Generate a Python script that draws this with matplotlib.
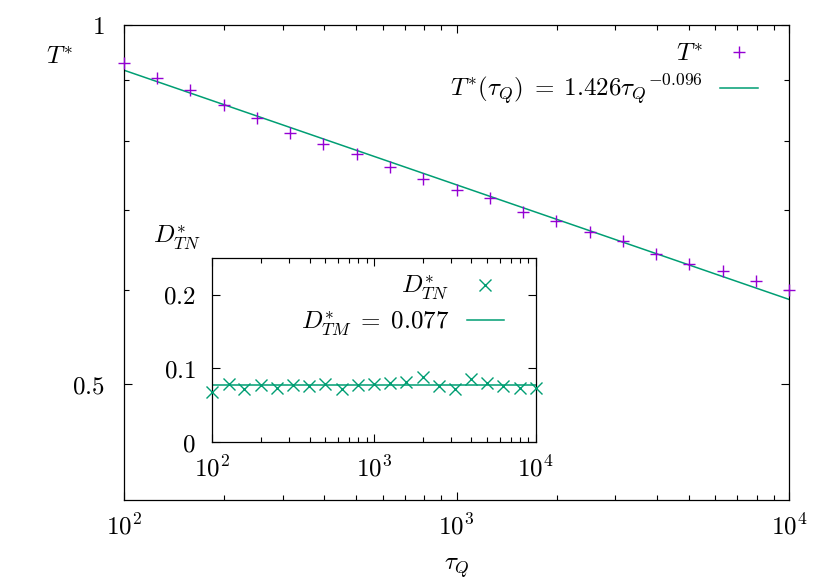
import numpy as np
import matplotlib
matplotlib.use("Agg")
import matplotlib.pyplot as plt
from matplotlib.ticker import FixedLocator, NullFormatter, LogLocator

plt.rcParams["mathtext.fontset"] = "cm"
plt.rcParams["font.family"] = "serif"
plt.rcParams["font.serif"] = ["DejaVu Serif"]

# quench times (0.1 decade steps)
tau_q = [100, 126, 158, 200, 251, 316, 398, 501, 631, 794, 1000,
         1259, 1585, 1995, 2512, 3162, 3981, 5012, 6310, 7943, 10000]

# T* values
t_star = [0.929, 0.903, 0.882, 0.857, 0.836, 0.812, 0.795, 0.779, 0.761,
          0.743, 0.728, 0.716, 0.697, 0.685, 0.671, 0.659, 0.643, 0.631,
          0.622, 0.610, 0.600]

# D*_TN values
d_tn = [0.0685, 0.0784, 0.0716, 0.0775, 0.0739, 0.0775, 0.0766, 0.0784,
        0.0716, 0.0775, 0.0788, 0.0806, 0.0811, 0.0878, 0.0766, 0.0721,
        0.0851, 0.0797, 0.0766, 0.0730, 0.0739]

fit_a = 1.426
fit_b = -0.096
d_tm = 0.077

PURPLE = "#9400d3"
GREEN = "#009e73"
FS = 18


def style_ticks(ax):
    ax.tick_params(which="both", direction="in", top=True, right=True,
                   width=0.8, labelsize=FS)
    ax.tick_params(which="major", length=6)
    ax.tick_params(which="minor", length=3.5)
    for s in ax.spines.values():
        s.set_linewidth(0.9)


def main():
    fig = plt.figure(figsize=(8.3, 5.81), dpi=100)

    # main panel
    ax = fig.add_axes([124 / 830, 1 - 500 / 581, 665 / 830, 475 / 581])
    x = np.array(tau_q, dtype=float)
    xf = np.logspace(2, 4, 200)
    ax.plot(x, t_star, ls="none", marker="+", ms=8, mew=1.0, color=PURPLE,
            label=r"$T^{*}$", clip_on=False, zorder=3)
    ax.plot(xf, fit_a * xf ** fit_b, color=GREEN, lw=1.1,
            label=r"$T^{*}(\tau_Q)\;=\;1.426\tau_Q{}^{-0.096}$")
    ax.set_xscale("log")
    ax.set_yscale("log")
    ax.set_xlim(1e2, 1e4)
    ax.set_ylim(0.4, 1.0)
    ax.xaxis.set_major_locator(FixedLocator([1e2, 1e3, 1e4]))
    ax.xaxis.set_minor_locator(LogLocator(base=10, subs=np.arange(2, 10)))
    ax.xaxis.set_minor_formatter(NullFormatter())
    ax.set_xticklabels([r"$10^2$", r"$10^3$", r"$10^4$"])
    ax.yaxis.set_major_locator(FixedLocator([0.5, 1.0]))
    ax.yaxis.set_minor_locator(FixedLocator([0.6, 0.7, 0.8, 0.9]))
    ax.yaxis.set_minor_formatter(NullFormatter())
    ax.set_yticklabels([r"$0.5$", r"$1$"])
    style_ticks(ax)
    ax.tick_params(axis="x", which="major", pad=10)
    ax.tick_params(axis="y", which="major", pad=14)
    ax.set_xlabel(r"$\tau_Q$", fontsize=FS, labelpad=12)
    fig.text(60 / 830, 1 - 58 / 581, r"$T^{*}$", fontsize=FS,
             ha="center", va="center")
    ax.legend(loc="upper right", bbox_to_anchor=(0.953, 0.963),
              frameon=False, markerfirst=False, fontsize=FS,
              handlelength=1.5, handletextpad=0.7, borderaxespad=0,
              borderpad=0, labelspacing=0.3)

    # inset
    ins = fig.add_axes([212.3 / 830, 1 - 442.3 / 581, 323.4 / 830, 184.6 / 581])
    ins.plot(x, d_tn, ls="none", marker="x", ms=9, mew=1.0, color=GREEN,
             label=r"$D^{*}_{TN}$", clip_on=False, zorder=3)
    ins.plot(xf, np.full_like(xf, d_tm), color=GREEN, lw=1.1,
             label=r"$D^{*}_{TM}\;=\;0.077$")
    ins.set_xscale("log")
    ins.set_xlim(1e2, 1e4)
    ins.set_ylim(0, 0.25)
    ins.xaxis.set_major_locator(FixedLocator([1e2, 1e3, 1e4]))
    ins.xaxis.set_minor_locator(LogLocator(base=10, subs=np.arange(2, 10)))
    ins.xaxis.set_minor_formatter(NullFormatter())
    ins.set_xticklabels([r"$10^2$", r"$10^3$", r"$10^4$"])
    ins.yaxis.set_major_locator(FixedLocator([0, 0.1, 0.2]))
    ins.set_yticklabels([r"$0$", r"$0.1$", r"$0.2$"])
    style_ticks(ins)
    ins.tick_params(axis="x", which="major", pad=10)
    ins.tick_params(axis="y", which="major", pad=12)
    fig.text(177 / 830, 1 - 238 / 581, r"$D^{*}_{TN}$", fontsize=FS,
             ha="center", va="center")
    ins.legend(loc="upper right", bbox_to_anchor=(0.902, 0.915),
               frameon=False, markerfirst=False, fontsize=FS,
               handlelength=1.5, handletextpad=0.7, borderaxespad=0,
               borderpad=0, labelspacing=0.3)

    fig.savefig("out.png", dpi=100)


if __name__ == "__main__":
    main()
